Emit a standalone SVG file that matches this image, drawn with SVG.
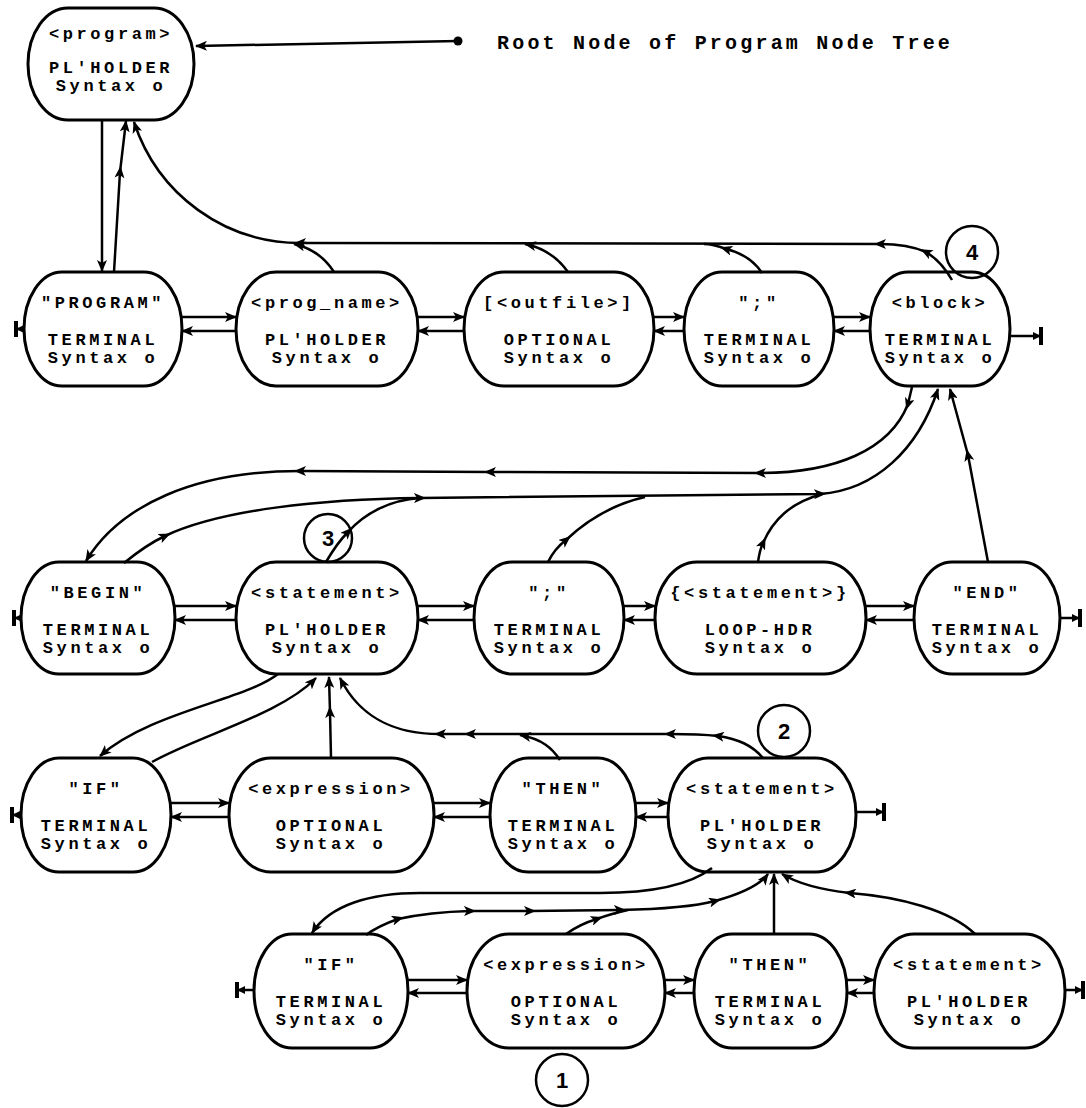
<svg xmlns="http://www.w3.org/2000/svg" width="1086" height="1108" viewBox="0 0 1086 1108">
<style>
.node rect{fill:#fff;stroke:#000;stroke-width:3}
.node text,.hdr{font-family:"Liberation Mono","DejaVu Sans Mono",monospace;font-weight:bold;font-size:17px;letter-spacing:3.6px;text-anchor:middle;fill:#000}
.hdr{text-anchor:start;font-size:20px;letter-spacing:3.2px}
.c path,.c line{fill:none;stroke:#000;stroke-width:2.5}
.c .bar{stroke-width:4}
.num circle{fill:none;stroke:#000;stroke-width:2.5}
.num text{font-family:"Liberation Sans",Arial,sans-serif;font-weight:bold;font-size:22px;text-anchor:middle;fill:#000}
</style>
<defs>
<marker id="ah" viewBox="0 0 12 10" refX="11" refY="5" markerWidth="12" markerHeight="10" markerUnits="userSpaceOnUse" orient="auto"><path d="M0,0 L12,5 L0,10 L3,5 z" fill="#000"/></marker>
<marker id="am" viewBox="0 0 12 10" refX="6" refY="5" markerWidth="12" markerHeight="10" markerUnits="userSpaceOnUse" orient="auto"><path d="M0,0 L12,5 L0,10 L3,5 z" fill="#000"/></marker>
<marker id="as" viewBox="0 0 8 8" refX="7" refY="4" markerWidth="8" markerHeight="8" markerUnits="userSpaceOnUse" orient="auto"><path d="M0,0 L8,4 L0,8 z" fill="#000"/></marker>
</defs>
<rect width="1086" height="1108" fill="#fff"/>

<g id="n-program" class="node"><rect x="28" y="8" width="166" height="112" rx="40" ry="56"/><text x="111" y="39">&lt;program&gt;</text><text x="111" y="73">PL'HOLDER</text><text x="111" y="91">Syntax o</text></g>

<g id="n-PROGRAM" class="node"><rect x="24" y="272" width="158" height="114" rx="38" ry="57"/><text x="103" y="308">"PROGRAM"</text><text x="103" y="345">TERMINAL</text><text x="103" y="363">Syntax o</text></g>
<g id="n-prog_name" class="node"><rect x="236" y="272" width="182" height="114" rx="40" ry="57"/><text x="327" y="308">&lt;prog_name&gt;</text><text x="327" y="345">PL'HOLDER</text><text x="327" y="363">Syntax o</text></g>
<g id="n-outfile" class="node"><rect x="464" y="272" width="190" height="114" rx="40" ry="57"/><text x="559" y="308">[&lt;outfile&gt;]</text><text x="559" y="345">OPTIONAL</text><text x="559" y="363">Syntax o</text></g>
<g id="n-semi1" class="node"><rect x="684" y="272" width="150" height="114" rx="38" ry="57"/><text x="759" y="308">";"</text><text x="759" y="345">TERMINAL</text><text x="759" y="363">Syntax o</text></g>
<g id="n-block" class="node"><rect x="870" y="272" width="140" height="114" rx="38" ry="57"/><text x="940" y="308">&lt;block&gt;</text><text x="940" y="345">TERMINAL</text><text x="940" y="363">Syntax o</text></g>

<g id="n-BEGIN" class="node"><rect x="21" y="562" width="154" height="112" rx="38" ry="56"/><text x="98" y="598">"BEGIN"</text><text x="98" y="635">TERMINAL</text><text x="98" y="653">Syntax o</text></g>
<g id="n-statement1" class="node"><rect x="236" y="562" width="182" height="112" rx="40" ry="56"/><text x="327" y="598">&lt;statement&gt;</text><text x="327" y="635">PL'HOLDER</text><text x="327" y="653">Syntax o</text></g>
<g id="n-semi2" class="node"><rect x="474" y="562" width="150" height="112" rx="38" ry="56"/><text x="549" y="598">";"</text><text x="549" y="635">TERMINAL</text><text x="549" y="653">Syntax o</text></g>
<g id="n-loop" class="node"><rect x="655" y="562" width="211" height="112" rx="42" ry="56"/><text x="760" y="598">{&lt;statement&gt;}</text><text x="760" y="635">LOOP-HDR</text><text x="760" y="653">Syntax o</text></g>
<g id="n-END" class="node"><rect x="914" y="562" width="146" height="112" rx="38" ry="56"/><text x="987" y="598">"END"</text><text x="987" y="635">TERMINAL</text><text x="987" y="653">Syntax o</text></g>

<g id="n-IF1" class="node"><rect x="21" y="758" width="150" height="114" rx="38" ry="57"/><text x="96" y="794">"IF"</text><text x="96" y="831">TERMINAL</text><text x="96" y="849">Syntax o</text></g>
<g id="n-expression1" class="node"><rect x="229" y="758" width="205" height="114" rx="42" ry="57"/><text x="331" y="794">&lt;expression&gt;</text><text x="331" y="831">OPTIONAL</text><text x="331" y="849">Syntax o</text></g>
<g id="n-THEN1" class="node"><rect x="490" y="758" width="146" height="114" rx="38" ry="57"/><text x="563" y="794">"THEN"</text><text x="563" y="831">TERMINAL</text><text x="563" y="849">Syntax o</text></g>
<g id="n-statement2" class="node"><rect x="668" y="758" width="188" height="114" rx="40" ry="57"/><text x="762" y="794">&lt;statement&gt;</text><text x="762" y="831">PL'HOLDER</text><text x="762" y="849">Syntax o</text></g>

<g id="n-IF2" class="node"><rect x="254" y="934" width="154" height="114" rx="38" ry="57"/><text x="331" y="970">"IF"</text><text x="331" y="1007">TERMINAL</text><text x="331" y="1025">Syntax o</text></g>
<g id="n-expression2" class="node"><rect x="467" y="934" width="198" height="114" rx="42" ry="57"/><text x="566" y="970">&lt;expression&gt;</text><text x="566" y="1007">OPTIONAL</text><text x="566" y="1025">Syntax o</text></g>
<g id="n-THEN2" class="node"><rect x="694" y="934" width="153" height="114" rx="38" ry="57"/><text x="770" y="970">"THEN"</text><text x="770" y="1007">TERMINAL</text><text x="770" y="1025">Syntax o</text></g>
<g id="n-statement3" class="node"><rect x="874" y="934" width="191" height="114" rx="40" ry="57"/><text x="969" y="970">&lt;statement&gt;</text><text x="969" y="1007">PL'HOLDER</text><text x="969" y="1025">Syntax o</text></g>

<g id="root-label"><circle cx="458" cy="41" r="4.5" fill="#000"/><text class="hdr" x="497" y="49">Root Node of Program Node Tree</text></g>

<g id="numbers" class="num">
<circle cx="972" cy="252" r="26"/><text x="972" y="260">4</text>
<circle cx="328" cy="538" r="24"/><text x="328" y="546">3</text>
<circle cx="784" cy="731" r="26"/><text x="784" y="739">2</text>
<circle cx="562" cy="1080" r="26"/><text x="562" y="1088">1</text>
</g>

<g id="connectors" class="c">
<path d="M458,41 L196,46" marker-end="url(#ah)"/>
<path d="M102,120 L102,271" marker-end="url(#ah)"/>
<path d="M114,272 L120,172 L126,121" marker-mid="url(#am)" marker-end="url(#ah)"/>
<path d="M952,280 C944,266 936,258 926,252 C910,245 895,244 880,244 L300,243 C225,243 158,195 134,122" marker-mid="url(#am)" marker-end="url(#ah)"/>
<path d="M334,272 C325,258 312,248 294,244" marker-end="url(#ah)"/>
<path d="M568,272 C558,258 545,248 525,244" marker-end="url(#ah)"/>
<path d="M762,273 C755,262 742,253 726,249 C718,246 712,244 704,244" marker-mid="url(#am)"/>

<path d="M182,317 L236,317" marker-end="url(#ah)"/><path d="M236,331 L182,331" marker-end="url(#ah)"/>
<path d="M418,317 L464,317" marker-end="url(#ah)"/><path d="M464,331 L418,331" marker-end="url(#ah)"/>
<path d="M654,317 L684,317" marker-end="url(#ah)"/><path d="M684,331 L654,331" marker-end="url(#ah)"/>
<path d="M834,317 L870,317" marker-end="url(#ah)"/><path d="M870,331 L834,331" marker-end="url(#ah)"/>
<path d="M24,329 L17,329" marker-end="url(#as)"/><line class="bar" x1="16" y1="321" x2="16" y2="337"/>
<path d="M1010,336 L1040,336" marker-end="url(#as)"/><line class="bar" x1="1041" y1="327" x2="1041" y2="345"/>

<path d="M912,387 L908,404 C890,450 835,473 760,473 L490,472 L300,471 C195,471 120,505 86,561" marker-mid="url(#am)" marker-end="url(#ah)"/>
<path d="M124,563 C140,550 152,542 165,536 C220,510 320,499 420,498 L820,494 C875,490 918,450 938,389" marker-mid="url(#am)" marker-end="url(#ah)"/>
<path d="M326,562 C333,550 340,540 348,532 C365,513 390,500 420,498" marker-mid="url(#am)"/>
<path d="M548,562 C553,552 558,546 566,540 C585,522 610,505 645,497" marker-mid="url(#am)"/>
<path d="M758,562 C759,555 760,549 763,543 C773,520 790,503 822,494" marker-mid="url(#am)"/>
<path d="M988,562 L968,455 L950,389" marker-mid="url(#am)" marker-end="url(#ah)"/>

<path d="M175,606 L236,606" marker-end="url(#ah)"/><path d="M236,620 L175,620" marker-end="url(#ah)"/>
<path d="M418,606 L474,606" marker-end="url(#ah)"/><path d="M474,620 L418,620" marker-end="url(#ah)"/>
<path d="M624,606 L655,606" marker-end="url(#ah)"/><path d="M655,620 L624,620" marker-end="url(#ah)"/>
<path d="M866,606 L914,606" marker-end="url(#ah)"/><path d="M914,620 L866,620" marker-end="url(#ah)"/>
<path d="M21,618 L15,618" marker-end="url(#as)"/><line class="bar" x1="14" y1="610" x2="14" y2="626"/>
<path d="M1060,618 L1079,618" marker-end="url(#as)"/><line class="bar" x1="1080" y1="609" x2="1080" y2="627"/>

<path d="M278,674 C245,700 150,712 100,756" marker-end="url(#ah)"/>
<path d="M152,762 C200,735 280,715 316,678" marker-end="url(#ah)"/>
<path d="M331,758 L330,712 L329,677" marker-mid="url(#am)" marker-end="url(#ah)"/>
<path d="M763,758 C752,745 738,739 718,736 C700,734 690,734 670,734 L470,734 L440,734 C400,734 362,722 340,678" marker-mid="url(#am)" marker-end="url(#ah)"/>
<path d="M560,760 C552,748 542,739 520,735" marker-end="url(#ah)"/>

<path d="M171,803 L229,803" marker-end="url(#ah)"/><path d="M229,817 L171,817" marker-end="url(#ah)"/>
<path d="M434,803 L490,803" marker-end="url(#ah)"/><path d="M490,817 L434,817" marker-end="url(#ah)"/>
<path d="M636,803 L668,803" marker-end="url(#ah)"/><path d="M668,817 L636,817" marker-end="url(#ah)"/>
<path d="M21,815 L13,815" marker-end="url(#as)"/><line class="bar" x1="12" y1="807" x2="12" y2="823"/>
<path d="M856,812 L883,812" marker-end="url(#as)"/><line class="bar" x1="884" y1="803" x2="884" y2="821"/>

<path d="M712,868 C690,885 650,893 600,893 L420,893 C370,893 330,905 312,933" marker-end="url(#ah)"/>
<path d="M366,935 Q378,926 398,919 Q430,912 470,911 L530,911 L620,910 C670,909 700,905 715,901 C740,894 760,885 768,874" marker-mid="url(#am)" marker-end="url(#ah)"/>
<path d="M566,934 Q580,924 597,919 Q610,914 628,910" marker-mid="url(#am)"/>
<path d="M774,934 L774,874" marker-end="url(#ah)"/>
<path d="M975,934 C950,910 900,897 850,893 C815,889 795,882 782,874" marker-mid="url(#am)" marker-end="url(#ah)"/>

<path d="M408,980 L467,980" marker-end="url(#ah)"/><path d="M467,993 L408,993" marker-end="url(#ah)"/>
<path d="M665,980 L694,980" marker-end="url(#ah)"/><path d="M694,993 L665,993" marker-end="url(#ah)"/>
<path d="M847,980 L874,980" marker-end="url(#ah)"/><path d="M874,993 L847,993" marker-end="url(#ah)"/>
<path d="M254,990 L238,990" marker-end="url(#as)"/><line class="bar" x1="237" y1="982" x2="237" y2="998"/>
<path d="M1065,990 L1082,990" marker-end="url(#as)"/><line class="bar" x1="1083" y1="981" x2="1083" y2="999"/>
</g>
</svg>
